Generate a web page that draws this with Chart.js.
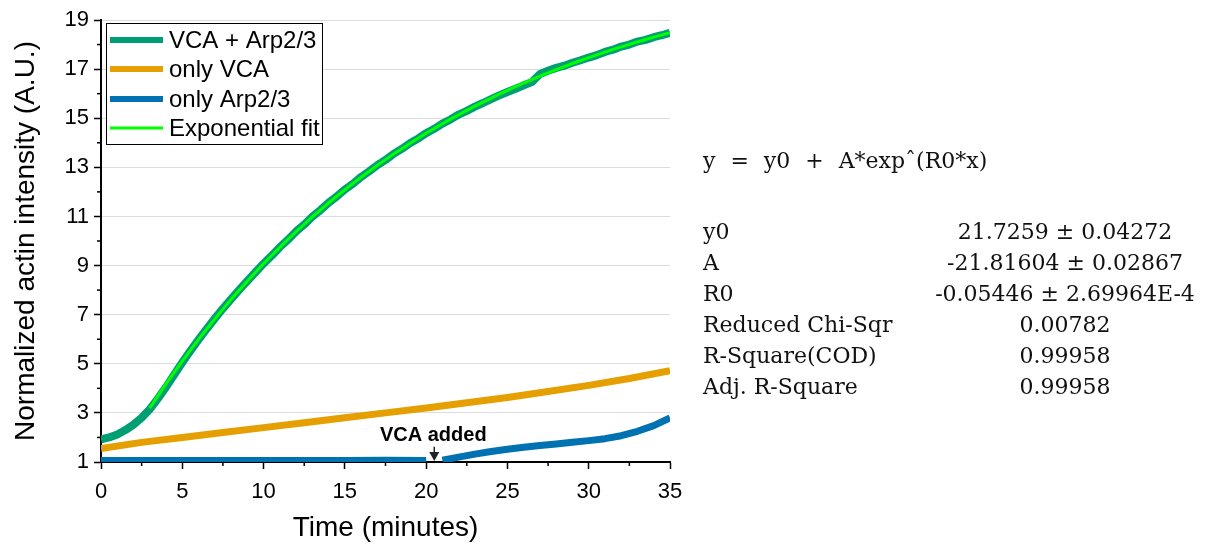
<!DOCTYPE html>
<html>
<head>
<meta charset="utf-8">
<script src="https://cdn.jsdelivr.net/npm/chart.js@4.4.1/dist/chart.umd.min.js"></script>
<style>
  html, body { margin: 0; padding: 0; background: #fff; }
  #wrap { position: relative; width: 1208px; height: 549px; overflow: hidden; }
  #c { position: absolute; left: 0; top: 0; }
  .fit { position: absolute; font-family: "DejaVu Serif", "Liberation Serif", serif; font-size: 22px;
         color: #111; line-height: 31px; white-space: nowrap; }
  .formula { word-spacing: 8px; }
  .val { text-align: center; width: 320px; }
</style>
</head>
<body>
<div id="wrap">
  <canvas id="c" width="1208" height="549"></canvas>
  <div id="panel"></div>
</div>
<script>
// ---- measured actin intensity (A.U.) vs time (minutes) ----
const arpVcaTimes = [0, 0.5, 1, 1.5, 2, 2.5, 3, 3.5, 4, 4.5, 5, 5.5, 6, 6.5, 7, 7.5, 8, 8.5, 9, 9.5,
  10, 10.5, 11, 11.5, 12, 12.5, 13, 13.5, 14, 14.5, 15, 15.5, 16, 16.5, 17, 17.5, 18, 18.5, 19, 19.5,
  20, 20.5, 21, 21.5, 22, 22.5, 23, 23.5, 24, 24.5, 25, 25.5, 26, 26.5, 27, 27.5, 28, 28.5, 29, 29.5,
  30, 30.5, 31, 31.5, 32, 32.5, 33, 33.5, 34, 34.5, 35];
const arpVcaValues = [1.92, 2.00, 2.12, 2.30, 2.52, 2.80, 3.15, 3.58, 4.05, 4.55, 5.05, 5.53, 5.98, 6.42, 6.84, 7.25, 7.63, 8.01, 8.37, 8.73,
  9.08, 9.40, 9.75, 10.05, 10.39, 10.67, 10.99, 11.26, 11.56, 11.81, 12.10, 12.33, 12.61, 12.84, 13.09, 13.30, 13.55, 13.75, 13.98, 14.17,
  14.39, 14.57, 14.78, 14.95, 15.15, 15.30, 15.47, 15.62, 15.78, 15.93, 16.07, 16.20, 16.34, 16.47, 16.80, 16.93, 17.05, 17.14, 17.26, 17.36,
  17.47, 17.57, 17.70, 17.79, 17.92, 18.00, 18.12, 18.19, 18.30, 18.38, 18.48];

const vcaTimes = [0, 2.5, 5, 7.5, 10, 12.5, 15, 17.5, 20, 22.5, 25, 27.5, 30, 32.5, 35];
const vcaValues = [1.55, 1.80, 2.00, 2.20, 2.40, 2.60, 2.80, 3.00, 3.20, 3.41, 3.63, 3.87, 4.12, 4.40, 4.72];

// null = acquisition pause while VCA is added
const arpTimes = [0, 2.5, 5, 7.5, 10, 12.5, 15, 17.5, 20, 20.5, 21, 22, 23, 24, 25, 26, 27, 28, 29, 30, 31, 32, 33, 34, 35];
const arpValues = [1.06, 1.06, 1.06, 1.06, 1.06, 1.06, 1.06, 1.07, 1.06, null, 1.07, 1.20, 1.32, 1.43, 1.52, 1.60, 1.67, 1.73, 1.80, 1.87, 1.95, 2.07, 2.25, 2.48, 2.80];

// ---- exponential fit y = y0 + A*exp(R0*x) ----
const fitY0 = 21.7259;
const fitA = -21.81604;
const fitR0 = -0.05446;
const fitStart = 3;
const fitFormula = 'y = y0 + A*expˆ(R0*x)';
const fitLabels = ['y0', 'A', 'R0', 'Reduced Chi-Sqr', 'R-Square(COD)', 'Adj. R-Square'];
const fitValues = ['21.7259 ± 0.04272', '-21.81604 ± 0.02867', '-0.05446 ± 2.69964E-4', '0.00782', '0.99958', '0.99958'];

// ---- axes ----
const xMajorStep = 5;
const xMinorTicks = [2.5, 7.5, 12.5, 17.5, 22.5, 27.5, 32.5];
const yMajorStep = 2;
const yMinorTicks = [2, 4, 6, 8, 10, 12, 14, 16, 18];

const seriesNames = ['VCA + Arp2/3', 'only VCA', 'only Arp2/3', 'Exponential fit'];
const annotationText = 'VCA added';
const annotationTime = 20.5;

// ---- build library data ----
const toPoints = (xs, ys) => xs.map((x, i) => ({ x, y: ys[i] }));
const fitTimes = arpVcaTimes.filter(t => t >= fitStart);
const fitPoints = fitTimes.map(t => ({ x: t, y: fitY0 + fitA * Math.exp(fitR0 * t) }));

const SANS = "'Liberation Sans', Arial, Helvetica, sans-serif";
Chart.defaults.font.family = SANS;
Chart.defaults.color = '#000';

const decorations = {
  id: 'decorations',
  afterDatasetsDraw(chart) {
    const { ctx, chartArea, scales } = chart;
    const x = scales.x, y = scales.y;
    ctx.save();

    // minor ticks
    ctx.strokeStyle = '#000';
    ctx.lineWidth = 1.5;
    xMinorTicks.forEach(v => {
      const px = x.getPixelForValue(v);
      ctx.beginPath(); ctx.moveTo(px, chartArea.bottom); ctx.lineTo(px, chartArea.bottom + 4); ctx.stroke();
    });
    yMinorTicks.forEach(v => {
      const py = y.getPixelForValue(v);
      ctx.beginPath(); ctx.moveTo(chartArea.left, py); ctx.lineTo(chartArea.left - 4, py); ctx.stroke();
    });

    // "VCA added" marker
    const ax = x.getPixelForValue(annotationTime);
    ctx.fillStyle = '#000';
    ctx.font = `bold 20px ${SANS}`;
    ctx.textAlign = 'center';
    ctx.textBaseline = 'middle';
    ctx.fillText(annotationText, ax - 1, y.getPixelForValue(2.08));
    const aTop = y.getPixelForValue(1.62), aTip = y.getPixelForValue(1.04);
    ctx.strokeStyle = '#222';
    ctx.lineWidth = 1.5;
    ctx.beginPath(); ctx.moveTo(ax, aTop); ctx.lineTo(ax, aTip - 7); ctx.stroke();
    ctx.fillStyle = '#222';
    ctx.beginPath(); ctx.moveTo(ax - 5, aTip - 9); ctx.lineTo(ax + 5, aTip - 9); ctx.lineTo(ax, aTip); ctx.closePath(); ctx.fill();

    // legend box
    const bx = chartArea.left + 5, by = chartArea.top + 3, bw = 216, bh = 121;
    ctx.fillStyle = '#fff';
    ctx.fillRect(bx, by, bw, bh);
    ctx.strokeStyle = '#000';
    ctx.lineWidth = 1;
    ctx.strokeRect(bx + 0.5, by + 0.5, bw, bh);
    const rows = [17, 46, 76, 105];
    ctx.font = `24px ${SANS}`;
    ctx.textAlign = 'left';
    ctx.textBaseline = 'middle';
    chart.data.datasets.forEach((ds, i) => {
      const ry = by + rows[i];
      ctx.strokeStyle = ds.borderColor;
      ctx.lineWidth = i === 3 ? 3 : 6;
      ctx.lineCap = 'butt';
      ctx.beginPath(); ctx.moveTo(bx + 4, ry); ctx.lineTo(bx + 57, ry); ctx.stroke();
      ctx.fillStyle = '#000';
      ctx.fillText(ds.label, bx + 63, ry + 1);
    });
    ctx.restore();
  }
};

new Chart(document.getElementById('c'), {
  type: 'line',
  data: {
    datasets: [
      { label: seriesNames[0], data: toPoints(arpVcaTimes, arpVcaValues), borderColor: '#009e73', borderWidth: 8, order: 1 },
      { label: seriesNames[1], data: toPoints(vcaTimes, vcaValues), borderColor: '#e69f00', borderWidth: 7, order: 2 },
      { label: seriesNames[2], data: toPoints(arpTimes, arpValues), borderColor: '#0072b2', borderWidth: 7, order: 3, spanGaps: false },
      { label: seriesNames[3], data: fitPoints, borderColor: '#00ff00', borderWidth: 3, order: 0 }
    ]
  },
  options: {
    responsive: false,
    animation: false,
    elements: { point: { radius: 0 }, line: { tension: 0, borderCapStyle: 'butt', borderJoinStyle: 'round' } },
    layout: { padding: { left: 0, top: 20, right: 538, bottom: 0 } },
    plugins: { legend: { display: false }, tooltip: { enabled: false } },
    scales: {
      x: {
        type: 'linear', min: 0, max: 35,
        ticks: { stepSize: xMajorStep, color: '#000', font: { size: 22 }, padding: 10, maxRotation: 0 },
        grid: { drawOnChartArea: false, drawTicks: true, tickLength: 7, tickColor: '#000', tickWidth: 1.5 },
        border: { color: '#000', width: 2 },
        title: { display: true, text: 'Time (minutes)', color: '#000', font: { size: 28 }, padding: { top: 0, bottom: 4 } },
        afterFit(s) { s.height = 87; }
      },
      y: {
        min: 1, max: 19,
        ticks: { stepSize: yMajorStep, color: '#000', font: { size: 22 }, padding: 5 },
        grid: { color: '#dcdcdc', lineWidth: 1, drawTicks: true, tickLength: 7, tickColor: '#000', tickWidth: 1.5 },
        border: { color: '#000', width: 2 },
        title: { display: true, text: 'Normalized actin intensity (A.U.)', color: '#000', font: { size: 28 }, padding: { top: 9, bottom: 0 } },
        afterFit(s) { s.width = 101; }
      }
    }
  },
  plugins: [decorations]
});

// fit summary panel
const panel = document.getElementById('panel');
function addText(text, left, top, cls) {
  const d = document.createElement('div');
  d.className = 'fit' + (cls ? ' ' + cls : '');
  d.style.left = left + 'px';
  d.style.top = top + 'px';
  d.textContent = text;
  panel.appendChild(d);
}
addText(fitFormula, 703, 145, 'formula');
fitLabels.forEach((lab, i) => {
  const top = 216 + i * 31;
  addText(lab, 703, top);
  addText(fitValues[i], 905, top, 'val');
});
</script>
</body>
</html>
